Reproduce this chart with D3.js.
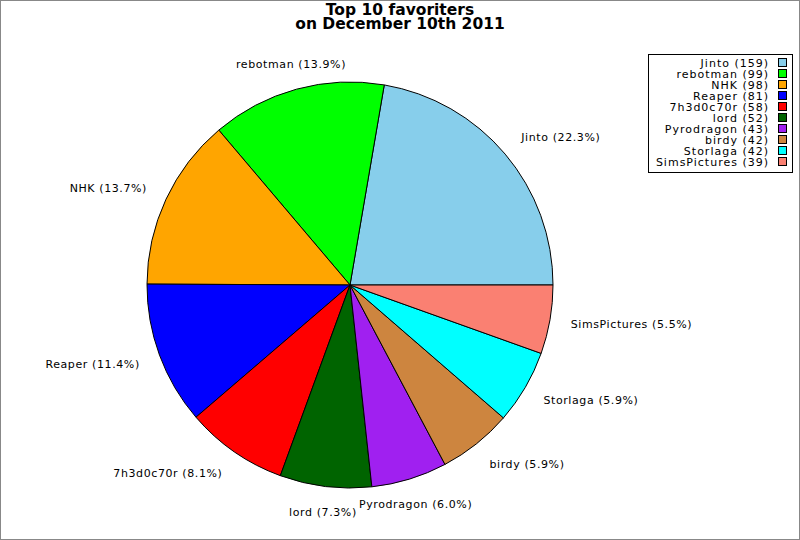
<!DOCTYPE html>
<meta charset="utf-8">
<style>
  body { margin: 0; }
  .title { font: bold 15.5px "DejaVu Sans", sans-serif; text-anchor: middle; }
  .label { font: 11px "DejaVu Sans", sans-serif; letter-spacing: 0.6px; }
  .legend text { font: 11px "DejaVu Sans", sans-serif; letter-spacing: 1px; text-anchor: end; }
</style>
<svg width="800" height="540"></svg>
<script src="https://d3js.org/d3.v7.min.js"></script>
<script>

  var names = ["Jinto", "rebotman", "NHK", "Reaper", "7h3d0c70r", "lord", "Pyrodragon", "birdy", "Storlaga", "SimsPictures"];
  var counts = [159, 99, 98, 81, 58, 52, 43, 42, 42, 39];
  var colors = ["#87ceeb", "#00ff00", "#ffa500", "#0000ff", "#ff0000", "#006400", "#a020f0", "#cd853f", "#00ffff", "#fa8072"];
  var titleLines = ["Top 10 favoriters", "on December 10th 2011"];

  var svg = d3.select("svg"),
      width = +svg.attr("width"),
      height = +svg.attr("height"),
      cx = 350, cy = 285, radius = 203, labelR = 224;

  svg.append("rect")
      .attr("x", 0.5).attr("y", 0.5)
      .attr("width", width - 1).attr("height", height - 1)
      .attr("fill", "#fff").attr("stroke", "#888");

  svg.selectAll(".title")
      .data(titleLines)
      .enter().append("text")
      .attr("class", "title")
      .attr("x", width / 2)
      .attr("y", function(d, i) { return 15 + i * 14; })
      .text(function(d) { return d; });

  var total = d3.sum(counts);
  var data = names.map(function(n, i) { return {name: n, count: counts[i], color: colors[i]}; });

  // start at 3 o'clock and go counter-clockwise
  var pie = d3.pie()
      .sort(null)
      .value(function(d) { return d.count; })
      .startAngle(Math.PI / 2)
      .endAngle(Math.PI / 2 - 2 * Math.PI);

  var arc = d3.arc().innerRadius(0).outerRadius(radius);
  var labelArc = d3.arc().innerRadius(labelR).outerRadius(labelR);

  var g = svg.append("g").attr("transform", "translate(" + cx + "," + cy + ")");
  var arcs = pie(data);

  g.selectAll("path")
      .data(arcs)
      .enter().append("path")
      .attr("d", arc)
      .attr("fill", function(d) { return d.data.color; })
      .attr("stroke", "#000")
      .attr("stroke-width", 1)
      .attr("stroke-linejoin", "round");

  // labels sit a bit further out above and below the pie
  function labelPos(d) {
    var c = labelArc.centroid(d);
    return [c[0], c[1] + 5 * c[1] / labelR];
  }

  g.selectAll(".label")
      .data(arcs)
      .enter().append("text")
      .attr("class", "label")
      .attr("transform", function(d) { return "translate(" + labelPos(d) + ")"; })
      .attr("dy", "0.35em")
      .attr("text-anchor", function(d) {
        var x = labelArc.centroid(d)[0];
        if (Math.abs(x) / labelR < 0.4) return "middle";
        return x > 0 ? "start" : "end";
      })
      .text(function(d) { return d.data.name + " (" + (d.data.count / total * 100).toFixed(1) + "%)"; });

  var legend = svg.append("g").attr("class", "legend");
  legend.append("rect")
      .attr("x", 648.5).attr("y", 54.5)
      .attr("width", 144).attr("height", 118)
      .attr("fill", "#fff").attr("stroke", "#000");

  var row = legend.selectAll(".row")
      .data(data)
      .enter().append("g")
      .attr("transform", function(d, i) { return "translate(0," + (67 + i * 11) + ")"; });

  row.append("text")
      .attr("x", 769)
      .text(function(d) { return d.name + " (" + d.count + ")"; });

  row.append("rect")
      .attr("x", 778.5).attr("y", -8.5)
      .attr("width", 8).attr("height", 8)
      .attr("fill", function(d) { return d.color; })
      .attr("stroke", "#000");

</script>
